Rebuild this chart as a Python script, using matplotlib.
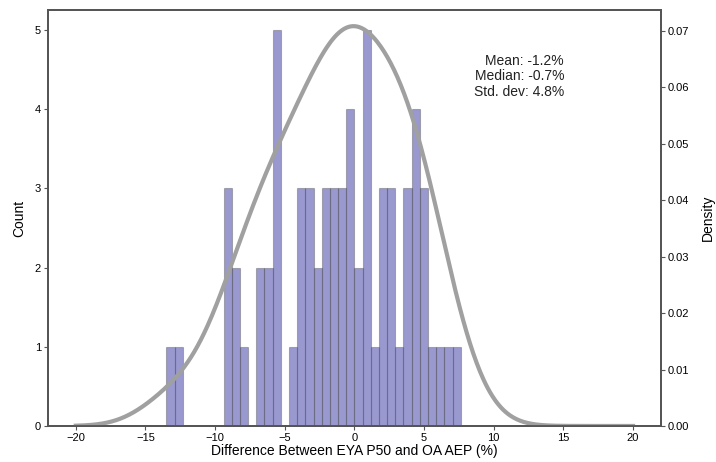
import numpy as np
import matplotlib.pyplot as plt

plt.rcParams['font.family'] = ['Liberation Sans', 'DejaVu Sans']

# histogram of EYA P50 vs OA AEP differences (%), 36 equal bins
bin_lo = -13.5
bin_hi = 7.63
counts = [1, 1, 0, 0, 0, 0, 0, 3, 2, 1, 0, 2, 2, 5, 0, 1, 3, 3,
          2, 3, 3, 3, 4, 2, 5, 1, 3, 3, 1, 3, 4, 3, 1, 1, 1, 1]
stats = {'Mean': -1.2, 'Median': -0.7, 'Std. dev': 4.8}

edges = np.linspace(bin_lo, bin_hi, len(counts) + 1)
centers = (edges[:-1] + edges[1:]) / 2
samples = np.repeat(centers, counts)

# gaussian kde, scott bandwidth (widened a bit)
grid = np.linspace(-20, 20, 500)
bw = 1.12 * samples.std(ddof=1) * len(samples) ** (-1 / 5)
dens = np.exp(-0.5 * ((grid[:, None] - samples[None, :]) / bw) ** 2).sum(axis=1)
dens /= len(samples) * bw * np.sqrt(2 * np.pi)

fig, ax = plt.subplots(figsize=(7.16, 4.62), dpi=100)
ax.bar(edges[:-1], counts, width=np.diff(edges), align='edge',
       color='darkblue', alpha=0.4, edgecolor='#555555', linewidth=0.8)
ax.set_ylabel('Count', fontsize=10, labelpad=6)
ax.set_xlabel('Difference Between EYA P50 and OA AEP (%)', fontsize=10, labelpad=1)

ax2 = ax.twinx()
ax2.plot(grid, dens, color='#a0a0a0', lw=3)
ax2.set_ylim(0, dens.max() * 1.04)
ax2.set_ylabel('Density', fontsize=10, labelpad=8)

ax.set_xlim(-22, 22)
ax.set_xticks(np.arange(-20, 21, 5))
ax.set_ylim(0, 5.25)
for a in (ax, ax2):
    a.tick_params(labelsize=8, length=3, pad=2, color='#555555')
    for s in a.spines.values():
        s.set_color('#555555')
        s.set_linewidth(1.3)

txt = '\n'.join(f'{k}: {v}%' for k, v in stats.items())
ax.text(0.842, 0.895, txt, transform=ax.transAxes, ha='right', va='top',
        fontsize=10, color='#222222', linespacing=1.15)

fig.subplots_adjust(left=0.067, right=0.923, top=0.978, bottom=0.078)
fig.savefig('out.png')
